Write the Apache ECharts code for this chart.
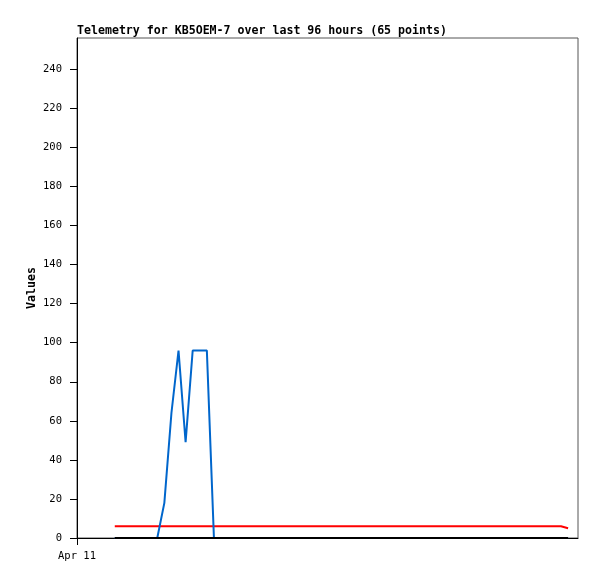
<!DOCTYPE html>
<html>
<head>
<meta charset="utf-8">
<script src="https://cdn.jsdelivr.net/npm/echarts@6/dist/echarts.min.js"></script>
<style>html,body{margin:0;padding:0;background:#fff}#c{width:597px;height:579px}</style>
</head>
<body>
<div id="c"></div>
<script>
// Hours since Apr 11 00:00 for each of the 65 points
var hours = [8, 9.5, 11, 12.5, 14, 15.5, 17, 18.5, 20, 21.5, 23, 24.5, 26, 27.5, 29, 30.5,
  32, 33.5, 35, 36.5, 38, 39.5, 41, 42.5, 44, 45.5, 47, 48.5, 50, 51.5, 53, 54.5,
  56, 57.5, 59, 60.5, 62, 63.5, 65, 66.5, 68, 69.5, 71, 72.5, 74, 75.5, 77, 78.5,
  80, 81.5, 83, 84.5, 86, 87.5, 89, 90.5, 92, 93.5, 95, 96.5, 98, 99.5, 101, 102.5, 104];
var redValues = [6,6,6,6,6,6,6,6,6,6,6,6,6,6,6,6,6,6,6,6,6,6,6,6,6,6,6,6,6,6,6,6,
  6,6,6,6,6,6,6,6,6,6,6,6,6,6,6,6,6,6,6,6,6,6,6,6,6,6,6,6,6,6,6,6,5];
var blueValues = [0,0,0,0,0,0,0,18,64,96,49,96,96,96,0,0,0,0,0,0,0,0,0,0,0,0,0,0,0,0,0,0,
  0,0,0,0,0,0,0,0,0,0,0,0,0,0,0,0,0,0,0,0,0,0,0,0,0,0,0,0,0,0,0,0,0];
var blackValues = [0,0,0,0,0,0,0,0,0,0,0,0,0,0,0,0,0,0,0,0,0,0,0,0,0,0,0,0,0,0,0,0,
  0,0,0,0,0,0,0,0,0,0,0,0,0,0,0,0,0,0,0,0,0,0,0,0,0,0,0,0,0,0,0,0,0];
var yTicks = [0, 20, 40, 60, 80, 100, 120, 140, 160, 180, 200, 220, 240];
var xTickValues = [0];
var xTickLabels = ['Apr 11'];

function pairs(vals) { return vals.map(function (v, i) { return [hours[i], v]; }); }

var mono = "'DejaVu Sans Mono', 'Liberation Mono', monospace";
var chart = echarts.init(document.getElementById('c'), null, {renderer: 'canvas'});
chart.setOption({
  animation: false,
  backgroundColor: '#fff',
  title: {
    text: 'Telemetry for KB5OEM-7 over last 96 hours (65 points)',
    left: 77, top: 25, padding: 0,
    textStyle: {fontFamily: mono, fontWeight: 'bold', fontSize: 11.6, color: '#000'}
  },
  grid: {left: 77, top: 38, right: 19, bottom: 41, show: true, borderColor: '#555', borderWidth: 1, backgroundColor: 'transparent'},
  xAxis: {
    type: 'value', min: 0, max: 106.1,
    axisLine: {show: true, lineStyle: {color: '#000', width: 1}},
    axisTick: {show: true, length: 7, customValues: xTickValues, lineStyle: {color: '#000'}},
    axisLabel: {customValues: xTickValues, margin: 13, fontFamily: mono, fontSize: 10.5, color: '#000',
      formatter: function (v) { var k = xTickValues.indexOf(v); return k >= 0 ? xTickLabels[k] : ''; }},
    splitLine: {show: false}
  },
  yAxis: {
    type: 'value', min: 0, max: 256,
    name: 'Values', nameLocation: 'middle', nameGap: 39, nameRotate: 90, nameMoveOverlap: false,
    nameTextStyle: {fontFamily: mono, fontWeight: 'bold', fontSize: 11.6, color: '#000'},
    axisLine: {show: true, lineStyle: {color: '#000', width: 1}},
    axisTick: {show: true, length: 7, customValues: yTicks, lineStyle: {color: '#000'}},
    axisLabel: {customValues: yTicks, margin: 15, fontFamily: mono, fontSize: 10.5, color: '#000'},
    splitLine: {show: false}
  },
  series: [
    {type: 'line', data: pairs(redValues), showSymbol: false, lineStyle: {color: '#ff0000', width: 2}, itemStyle: {color: '#ff0000'}, z: 2},
    {type: 'line', data: pairs(blueValues), showSymbol: false, lineStyle: {color: '#0066cc', width: 2}, itemStyle: {color: '#0066cc'}, z: 3},
    {type: 'line', data: pairs(blackValues), showSymbol: false, lineStyle: {color: '#000000', width: 2}, itemStyle: {color: '#000'}, z: 4}
  ]
});
</script>
</body>
</html>
